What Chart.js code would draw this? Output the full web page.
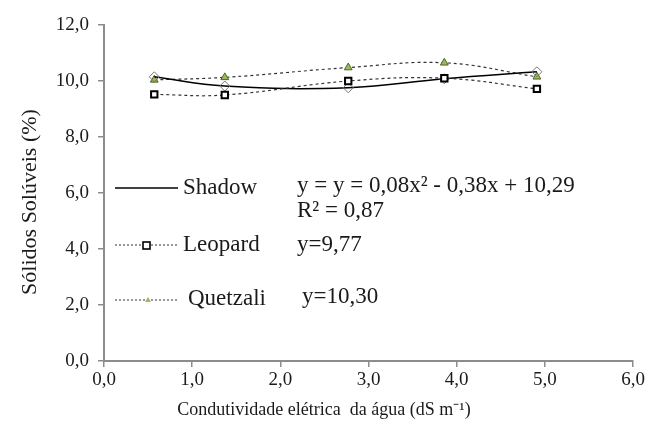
<!DOCTYPE html>
<html>
<head>
<meta charset="utf-8">
<script src="https://cdn.jsdelivr.net/npm/chart.js@4"></script>
<style>
  body { margin: 0; background: #fff; }
  #wrap { width: 648px; height: 435px; }
</style>
</head>
<body>
<div id="wrap"><canvas id="solidsChart" width="648" height="435"></canvas></div>
<script>
// condutividade elétrica da água (dS m-1)
const ecValues = [0.57, 1.37, 2.77, 3.86, 4.91];
const shadowValues = [10.15, 9.82, 9.76, 10.08, 10.33];
const leopardValues = [9.52, 9.50, 10.00, 10.10, 9.72];
const quetzaliValues = [10.04, 10.13, 10.48, 10.65, 10.15];
const seriesNames = ['Shadow', 'Leopard', 'Quetzali'];
const equations = ['y = y = 0,08x\u00B2 - 0,38x + 10,29', 'y=9,77', 'y=10,30'];
const r2Label = 'R\u00B2 = 0,87';
const xTitle = 'Condutividade elétrica  da água (dS m\u207B\u00B9)';
const yTitle = 'Sólidos Solúveis (%)';

const FONT = '"Liberation Serif", "Times New Roman", serif';
const AXIS = '#8c8c8c';
const TEXT = '#1a1a1a';

function toPoints(values) {
    return ecValues.map((x, i) => ({ x: x, y: values[i] }));
}

function fmt(v) {
    return v.toFixed(1).replace('.', ',');
}

// axis titles sit off-centre in the original, so they are placed by hand
const titlesPlugin = {
    id: 'axisTitles',
    afterDraw(chart) {
        const ctx = chart.ctx;
        ctx.save();
        ctx.fillStyle = TEXT;
        ctx.textAlign = 'center';
        ctx.textBaseline = 'middle';
        ctx.font = '18px ' + FONT;
        ctx.fillText(xTitle, 324, 410);
        ctx.translate(30, 202);
        ctx.rotate(-Math.PI / 2);
        ctx.font = '22px ' + FONT;
        ctx.fillText(yTitle, 0, 0);
        ctx.restore();
    }
};

// legend + equations drawn inside the plot, like the Excel original
const legendPlugin = {
    id: 'insideLegend',
    afterDraw(chart) {
        const ctx = chart.ctx;
        ctx.save();
        ctx.font = '23px ' + FONT;
        ctx.fillStyle = TEXT;
        ctx.textBaseline = 'middle';

        // Shadow
        ctx.strokeStyle = '#000';
        ctx.lineWidth = 1.3;
        ctx.setLineDash([]);
        ctx.beginPath();
        ctx.moveTo(115, 188);
        ctx.lineTo(178, 188);
        ctx.stroke();
        ctx.fillText(seriesNames[0], 183, 188);
        ctx.fillText(equations[0], 297, 186);
        ctx.fillText(r2Label, 297, 211);

        // Leopard
        ctx.strokeStyle = '#333';
        ctx.lineWidth = 1.2;
        ctx.setLineDash([2, 2]);
        ctx.beginPath();
        ctx.moveTo(115, 245);
        ctx.lineTo(178, 245);
        ctx.stroke();
        ctx.setLineDash([]);
        ctx.fillStyle = '#fff';
        ctx.fillRect(143, 242, 7, 7);
        ctx.lineWidth = 1.6;
        ctx.strokeStyle = '#000';
        ctx.strokeRect(143, 242, 7, 7);
        ctx.fillStyle = TEXT;
        ctx.fillText(seriesNames[1], 183, 245);
        ctx.fillText(equations[1], 297, 245);

        // Quetzali
        ctx.strokeStyle = '#333';
        ctx.lineWidth = 1.2;
        ctx.setLineDash([2, 2]);
        ctx.beginPath();
        ctx.moveTo(115, 300);
        ctx.lineTo(178, 300);
        ctx.stroke();
        ctx.setLineDash([]);
        ctx.fillStyle = '#9bbb59';
        ctx.beginPath();
        ctx.moveTo(148, 297);
        ctx.lineTo(151, 302);
        ctx.lineTo(145, 302);
        ctx.closePath();
        ctx.fill();
        ctx.fillStyle = TEXT;
        ctx.fillText(seriesNames[2], 188, 299);
        ctx.fillText(equations[2], 302, 297);
        ctx.restore();
    }
};

const ctx = document.getElementById('solidsChart').getContext('2d');

new Chart(ctx, {
    type: 'scatter',
    data: {
        datasets: [
            {
                label: seriesNames[1],
                data: toPoints(leopardValues),
                showLine: true,
                borderColor: '#333',
                borderWidth: 1.2,
                borderDash: [3, 3],
                tension: 0.4,
                pointStyle: 'rect',
                pointRadius: 4.5,
                pointBorderWidth: 2,
                pointBorderColor: '#000',
                pointBackgroundColor: '#fff'
            },
            {
                label: seriesNames[0],
                data: toPoints(shadowValues),
                showLine: true,
                borderColor: '#000',
                borderWidth: 1.5,
                tension: 0.4,
                pointStyle: 'rectRot',
                pointRadius: 5,
                pointBorderWidth: 1,
                pointBorderColor: '#777',
                pointBackgroundColor: 'rgba(255,255,255,0)'
            },
            {
                label: seriesNames[2],
                data: toPoints(quetzaliValues),
                showLine: true,
                borderColor: '#333',
                borderWidth: 1.2,
                borderDash: [3, 3],
                tension: 0.4,
                pointStyle: 'triangle',
                pointRadius: 4.5,
                pointBorderWidth: 1,
                pointBorderColor: '#4f6228',
                pointBackgroundColor: '#9bbb59'
            }
        ]
    },
    options: {
        responsive: false,
        animation: false,
        layout: { padding: { top: 25, right: 15, left: 0, bottom: 0 } },
        plugins: {
            legend: { display: false },
            tooltip: { enabled: false }
        },
        scales: {
            x: {
                type: 'linear',
                min: 0,
                max: 6,
                afterFit: function (scale) { scale.height = 74; },
                ticks: {
                    stepSize: 1,
                    color: TEXT,
                    font: { family: FONT, size: 19 },
                    padding: 2,
                    maxRotation: 0,
                    callback: (v) => fmt(v)
                },
                grid: {
                    drawOnChartArea: false,
                    drawTicks: true,
                    tickLength: 6,
                    color: AXIS,
                    lineWidth: 1.5
                },
                border: { color: AXIS, width: 2 }
            },
            y: {
                min: 0,
                max: 12,
                afterFit: function (scale) { scale.width = 104; },
                ticks: {
                    stepSize: 2,
                    color: TEXT,
                    font: { family: FONT, size: 19 },
                    padding: 9,
                    callback: (v) => fmt(v)
                },
                grid: {
                    drawOnChartArea: false,
                    drawTicks: true,
                    tickLength: 6,
                    color: AXIS,
                    lineWidth: 1.5
                },
                border: { color: AXIS, width: 2 }
            }
        }
    },
    plugins: [legendPlugin, titlesPlugin]
});
</script>
</body>
</html>
